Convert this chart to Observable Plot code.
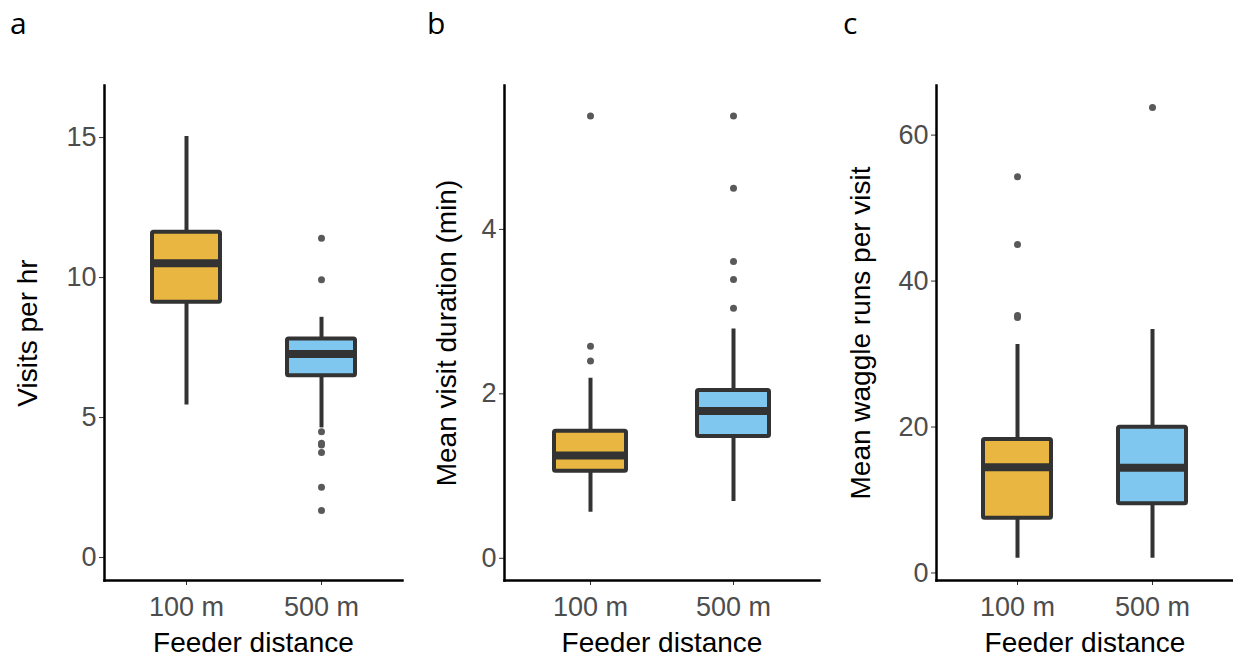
<!DOCTYPE html>
<html>
<head>
<meta charset="utf-8">
<script src="https://cdn.jsdelivr.net/npm/d3@7"></script>
<script src="https://cdn.jsdelivr.net/npm/@observablehq/plot@0.6"></script>
<style>
  html, body { margin: 0; padding: 0; background: #fff; }
  #wrap { position: relative; width: 1233px; height: 669px; overflow: hidden; font-family: "Liberation Sans", Arial, sans-serif; }
  .panel { position: absolute; top: 0; }
  .letter { position: absolute; top: 0; font-family: "Open Sans", "DejaVu Sans", sans-serif; font-size: 30px; color: #000; line-height: 1; }
</style>
</head>
<body>
<div id="wrap"></div>
<script>
// ---- Data ----
const categories = ["100 m", "500 m"];
const boxColors = ["#E9B741", "#7FC7EE"];

// Panel a: Visits per hr
const visitsLo = [5.45, 4.63];
const visitsQ1 = [9.12, 6.49];
const visitsMedian = [10.51, 7.27];
const visitsQ3 = [11.62, 7.81];
const visitsHi = [15.04, 8.58];
const visitsOutlierCat = ["500 m", "500 m", "500 m", "500 m", "500 m", "500 m", "500 m", "500 m"];
const visitsOutlierVal = [11.40, 9.92, 4.49, 4.08, 4.02, 3.75, 2.51, 1.68];
const visitsTicks = [0, 5, 10, 15];

// Panel b: Mean visit duration (min)
const durLo = [0.56, 0.69];
const durQ1 = [1.06, 1.48];
const durMedian = [1.25, 1.79];
const durQ3 = [1.545, 2.04];
const durHi = [2.19, 2.79];
const durOutlierCat = ["100 m", "100 m", "100 m", "500 m", "500 m", "500 m", "500 m", "500 m"];
const durOutlierVal = [5.38, 2.58, 2.40, 5.38, 4.50, 3.61, 3.39, 3.04];
const durTicks = [0, 2, 4];

// Panel c: Mean waggle runs per visit
const waggleLo = [2.03, 2.03];
const waggleQ1 = [7.51, 9.48];
const waggleMedian = [14.49, 14.41];
const waggleQ3 = [18.29, 19.97];
const waggleHi = [31.3, 33.36];
const waggleOutlierCat = ["100 m", "100 m", "100 m", "100 m", "500 m"];
const waggleOutlierVal = [54.3, 45.0, 35.0, 35.3, 63.8];
const waggleTicks = [0, 20, 40, 60];

// ---- Build ----
function makePanel(cfg) {
  const boxes = categories.map((c, i) => ({
    cat: c, lo: cfg.lo[i], q1: cfg.q1[i], med: cfg.med[i], q3: cfg.q3[i], hi: cfg.hi[i], color: boxColors[i]
  }));
  const outliers = cfg.outCat.map((c, i) => ({cat: c, v: cfg.outVal[i]}));
  return Plot.plot({
    width: cfg.width,
    height: 669,
    marginLeft: cfg.marginLeft,
    marginRight: cfg.marginRight,
    marginTop: 85,
    marginBottom: 89,
    style: {fontFamily: '"Liberation Sans", Arial, sans-serif', background: "white", overflow: "visible"},
    x: {type: "band", domain: categories, paddingInner: 0.5, paddingOuter: 0.35},
    y: {domain: cfg.domain},
    marks: [
      Plot.axisY({ticks: cfg.ticks, tickFormat: (d) => String(d), tickSize: 5, tickPadding: 3, fontSize: 27, color: "#4d4d4d", stroke: "#333", label: null}),
      Plot.axisX({tickSize: 5, tickPadding: 11, fontSize: 27, color: "#4d4d4d", stroke: "#333", label: null}),
      Plot.frame({anchor: "left", stroke: "#000", strokeWidth: 2.5}),
      Plot.frame({anchor: "bottom", stroke: "#000", strokeWidth: 2.5}),
      Plot.ruleX(boxes, {x: "cat", y1: "lo", y2: "hi", stroke: "#333", strokeWidth: 4}),
      Plot.barY(boxes, {x: "cat", y1: "q1", y2: "q3", fill: "color", stroke: "#333", strokeWidth: 4, rx: 1.5}),
      Plot.tickY(boxes, {x: "cat", y: "med", stroke: "#333", strokeWidth: 8}),
      Plot.dot(outliers, {x: "cat", y: "v", r: 3.5, fill: "#595959", stroke: "none"}),
      Plot.text([cfg.yTitle], {frameAnchor: "left", dx: cfg.titleDx, rotate: -90, textAnchor: "middle", lineAnchor: "top", fontSize: 28, fill: "#000"}),
      Plot.text(["Feeder distance"], {frameAnchor: "bottom", dy: 52, textAnchor: "middle", lineAnchor: "top", fontSize: 28, fill: "#000"})
    ]
  });
}

const panels = [
  {left: 0, width: 410, marginLeft: 104, marginRight: 8, domain: [-0.82, 16.86], ticks: visitsTicks,
   lo: visitsLo, q1: visitsQ1, med: visitsMedian, q3: visitsQ3, hi: visitsHi,
   outCat: visitsOutlierCat, outVal: visitsOutlierVal, yTitle: "Visits per hr", titleDx: -87, letter: "a", letterX: 10},
  {left: 420, width: 410, marginLeft: 84, marginRight: 11, domain: [-0.27, 5.75], ticks: durTicks,
   lo: durLo, q1: durQ1, med: durMedian, q3: durQ3, hi: durHi,
   outCat: durOutlierCat, outVal: durOutlierVal, yTitle: "Mean visit duration (min)", titleDx: -68, letter: "b", letterX: 427},
  {left: 830, width: 403, marginLeft: 106, marginRight: 0, domain: [-1.03, 66.8], ticks: waggleTicks,
   lo: waggleLo, q1: waggleQ1, med: waggleMedian, q3: waggleQ3, hi: waggleHi,
   outCat: waggleOutlierCat, outVal: waggleOutlierVal, yTitle: "Mean waggle runs per visit", titleDx: -86, letter: "c", letterX: 843}
];

const wrap = document.getElementById("wrap");
for (const p of panels) {
  const div = document.createElement("div");
  div.className = "panel";
  div.style.left = p.left + "px";
  div.appendChild(makePanel(p));
  wrap.appendChild(div);
  const L = document.createElement("div");
  L.className = "letter";
  L.textContent = p.letter;
  L.style.left = p.letterX + "px";
  L.style.top = "8px";
  wrap.appendChild(L);
}
</script>
</body>
</html>
